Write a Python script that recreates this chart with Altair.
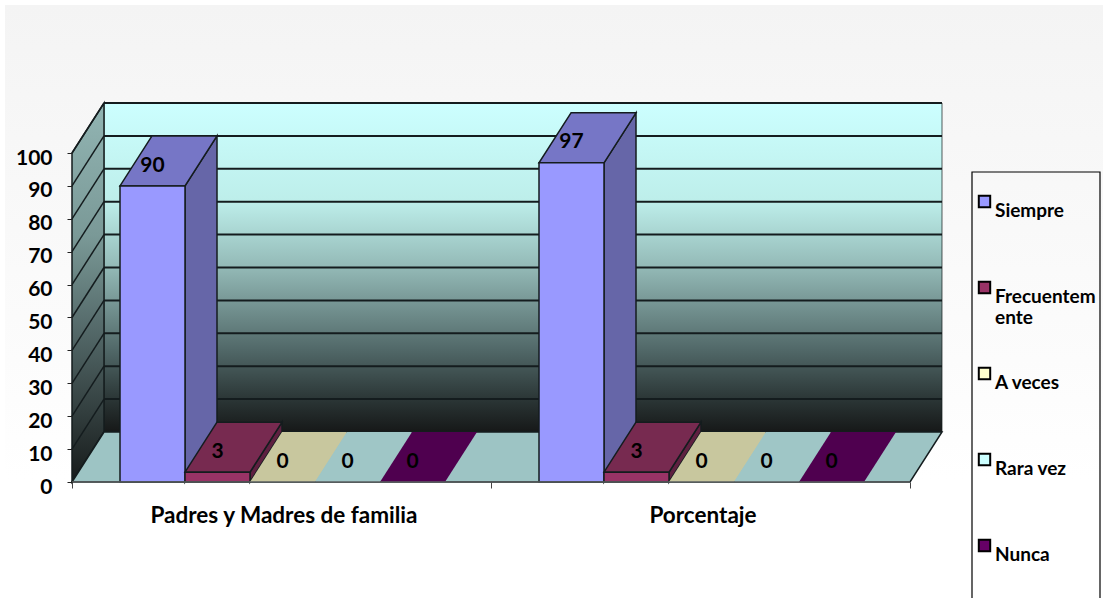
import altair as alt
import pandas as pd

# Survey results by respondent group and answer
groups = ["Padres y Madres de familia", "Porcentaje"]
answers = ["Siempre", "Frecuentemente", "A veces", "Rara vez", "Nunca"]
values_parents = [90, 3, 0, 0, 0]
values_percent = [97, 3, 0, 0, 0]
series_values = [values_parents, values_percent]

front_colors = ["#9999ff", "#993366", "#ffffcc", "#ccffff", "#660066"]
top_colors = ["#7676c6", "#772a50", "#c8c79e", "#9fc6c6", "#4f004f"]
side_colors = ["#6666a8", "#5e2040", "#a8a888", "#88aaaa", "#400040"]

y_ticks = list(range(0, 101, 10))

# Oblique projection, in data units: one full step of depth moves a mark
# this far along each axis
DEPTH_X = 32 / 419
DEPTH_Y = 50 / 3.29
BAR_START = 48 / 419
BAR_WIDTH = 65 / 419
LABEL_LIFT = 6.2
INK = "#141c1e"

X_SCALE = alt.Scale(domain=[0, 873 / 419], nice=False, zero=False)
Y_SCALE = alt.Scale(domain=[0, 379 / 3.29], nice=False, zero=False)

label_expr = (
    f"datum.value===0.5?'{groups[0]}':datum.value===1.5?'{groups[1]}':''"
)
X_AXIS = alt.Axis(
    values=[0, 0.5, 1, 1.5, 2],
    title=None,
    grid=False,
    domain=False,
    zindex=1,
    tickColor="#444444",
    tickSize=6,
    tickOpacity={"condition": {"test": "datum.value===0.5||datum.value===1.5", "value": 0}, "value": 1},
    labelExpr=label_expr,
    labelFont="Lato",
    labelFontWeight="bold",
    labelFontSize=22.5,
    labelColor="#000000",
    labelPadding=16,
    labelOffset=2,
    labelLimit=600,
    labelFlush=False,
    labelOverlap=False,
    labelBound=False,
    labelAngle=0,
)
Y_AXIS = alt.Axis(
    values=y_ticks,
    title=None,
    grid=False,
    domain=False,
    zindex=1,
    tickColor="#222222",
    tickSize=5,
    labelFont="Lato",
    labelFontWeight="bold",
    labelFontSize=21,
    labelColor="#000000",
    labelPadding=15,
    labelOffset=5,
    labelOverlap=False,
    labelBound=False,
)


def px(field):
    return alt.X(field, scale=X_SCALE, axis=X_AXIS)


def py(field):
    return alt.Y(field, scale=Y_SCALE, axis=Y_AXIS)


def gradient(stops):
    return alt.Gradient(
        gradient="linear",
        x1=0, x2=0, y1=0, y2=1,
        stops=[alt.GradientStop(offset=o, color=c) for o, c in stops],
    )


# Page wash behind everything
page = alt.Chart(pd.DataFrame({
    "x0": [-67 / 419], "x1": [1031 / 419], "y0": [477 / 3.29], "y1": [-116 / 3.29],
})).mark_rect(
    color=gradient([(0, "#f4f4f4"), (0.6, "#fcfcfc"), (0.8, "#ffffff"), (1, "#ffffff")])
).encode(x=px("x0:Q"), x2="x1:Q", y=py("y0:Q"), y2="y1:Q")

# Back wall
wall = alt.Chart(pd.DataFrame({
    "x0": [DEPTH_X], "x1": [2 + DEPTH_X], "y0": [DEPTH_Y], "y1": [100 + DEPTH_Y],
})).mark_rect(
    color=gradient([
        (0, "#ccffff"), (0.3, "#bdeeea"), (0.5, "#93b9b6"),
        (0.75, "#516868"), (0.9, "#2b3636"), (1, "#161818"),
    ])
).encode(x=px("x0:Q"), x2="x1:Q", y=py("y0:Q"), y2="y1:Q")

# Side wall
side_wall = alt.Chart(pd.DataFrame({
    "x": [0, DEPTH_X], "y0": [0, DEPTH_Y], "y1": [100, 100 + DEPTH_Y],
})).mark_area(
    color=gradient([
        (0, "#92b5b3"), (0.35, "#7a9997"), (0.65, "#4c5f5f"), (1, "#161a1a"),
    ]),
    stroke=INK,
    strokeWidth=1.5,
    interpolate="linear",
).encode(x=px("x:Q"), y=py("y0:Q"), y2="y1:Q")

# Floor
floor = alt.Chart(pd.DataFrame({
    "x0": [0, DEPTH_X], "x1": [2, 2 + DEPTH_X], "y": [0, DEPTH_Y],
})).mark_area(
    color="#9dc4c4", stroke=INK, strokeWidth=1.5, orient="horizontal", interpolate="linear",
).encode(y=py("y:Q"), x=px("x0:Q"), x2="x1:Q")

# Gridlines across the back wall and down the side wall
tick_frame = pd.DataFrame({"tick": y_ticks})
tick_frame["back"] = tick_frame["tick"] + DEPTH_Y
tick_frame["x0"] = DEPTH_X
tick_frame["x1"] = 2 + DEPTH_X
tick_frame["origin"] = 0.0

back_grid = alt.Chart(tick_frame).mark_rule(color=INK, strokeWidth=2).encode(
    x=px("x0:Q"), x2="x1:Q", y=py("back:Q")
)
side_grid = alt.Chart(tick_frame).mark_rule(color=INK, strokeWidth=1.5).encode(
    x=px("origin:Q"), x2="x0:Q", y=py("tick:Q"), y2="back:Q"
)
wall_edge = alt.Chart(pd.DataFrame({
    "x": [DEPTH_X, 2 + DEPTH_X], "y0": [DEPTH_Y, DEPTH_Y], "y1": [100 + DEPTH_Y, 100 + DEPTH_Y],
})).mark_rule(color=INK, strokeWidth=1.2, opacity=0.6).encode(x=px("x:Q"), y=py("y0:Q"), y2="y1:Q")

# Legend frame, open past the bottom of the page
legend_box = alt.Chart(pd.DataFrame({
    "x0": [900 / 419], "x1": [1028 / 419], "y0": [310 / 3.29], "y1": [-130 / 3.29],
})).mark_rect(filled=False, stroke="#000000", strokeWidth=1.2).encode(
    x=px("x0:Q"), x2="x1:Q", y=py("y0:Q"), y2="y1:Q"
)

# Bars: each answer contributes a side face, a top face and a front face
color_scale = alt.Scale(domain=answers, range=front_colors)
legend = alt.Legend(
    orient="none",
    legendX=897,
    legendY=69,
    title=" ",
    titleFontSize=8,
    titlePadding=6,
    padding=6,
    gridAlign="all",
    symbolType="square",
    symbolSize=130,
    symbolStrokeColor="#000000",
    symbolStrokeWidth=2,
    labelFont="Lato",
    labelFontWeight="bold",
    labelFontSize=19,
    labelColor="#000000",
    labelBaseline="top",
    labelLimit=200,
    labelOffset=1,
    rowPadding=35,
    labelExpr="datum.label==='Frecuentemente'?['Frecuentem','ente']:datum.label",
)

bar_layers = []
label_rows = []
stroke_when_tall = alt.condition("datum.value>0", alt.value(1), alt.value(0))
for s, answer in enumerate(answers):
    rows, side_rows, top_rows = [], [], []
    for g in range(len(groups)):
        v = series_values[g][s]
        left = g + BAR_START + s * BAR_WIDTH
        right = left + BAR_WIDTH
        rows.append({"answer": answer, "value": v, "x0": left, "x1": right, "y0": 0, "y1": v})
        label_rows.append({"value": v, "x": (left + right) / 2, "y": v + LABEL_LIFT})
        for d in (0, 1):
            side_rows.append({
                "bar": g, "value": v, "x": right + d * DEPTH_X,
                "y0": d * DEPTH_Y, "y1": v + d * DEPTH_Y,
            })
            top_rows.append({
                "bar": g, "value": v, "x0": left + d * DEPTH_X, "x1": right + d * DEPTH_X,
                "y": v + d * DEPTH_Y,
            })
    side = alt.Chart(pd.DataFrame(side_rows)).transform_filter("datum.value>0").mark_area(
        color=side_colors[s], stroke=INK, strokeWidth=1.5, interpolate="linear",
    ).encode(x=px("x:Q"), y=py("y0:Q"), y2="y1:Q", detail="bar:N")
    top = alt.Chart(pd.DataFrame(top_rows)).mark_area(
        color=top_colors[s], stroke=INK, strokeWidth=1.5, orient="horizontal", interpolate="linear",
    ).encode(
        y=py("y:Q"), x=px("x0:Q"), x2="x1:Q", detail="bar:N", strokeOpacity=stroke_when_tall,
    )
    front = alt.Chart(pd.DataFrame(rows)).mark_rect(stroke=INK, strokeWidth=1.5).encode(
        x=px("x0:Q"), x2="x1:Q", y=py("y0:Q"), y2="y1:Q",
        color=alt.Color("answer:N", scale=color_scale, legend=legend),
        strokeOpacity=stroke_when_tall,
    )
    bar_layers += [side, top, front]

# Front edge of the floor
base_line = alt.Chart(pd.DataFrame({"x0": [0], "x1": [2], "y": [0]})).mark_rule(
    color="#5a5f60", strokeWidth=1.5
).encode(x=px("x0:Q"), x2="x1:Q", y=py("y:Q"))

# Value labels sit on the top face of each bar
labels = alt.Chart(pd.DataFrame(label_rows)).mark_text(
    font="Lato", fontWeight="bold", fontSize=21, color="#000000", baseline="middle", align="center",
).encode(x=px("x:Q"), y=py("y:Q"), text=alt.Text("value:Q", format="d"))

chart = alt.layer(
    page, legend_box, wall, back_grid, wall_edge, side_wall, side_grid, floor, *bar_layers, base_line, labels,
).properties(
    width=873,
    height=379,
    padding={"left": 72, "top": 103, "right": 158, "bottom": 116},
    autosize=alt.AutoSizeParams(type="none"),
    background="#ffffff",
).configure_view(stroke=None)

chart.save("out.html", embed_options={"renderer": "svg", "actions": False})
